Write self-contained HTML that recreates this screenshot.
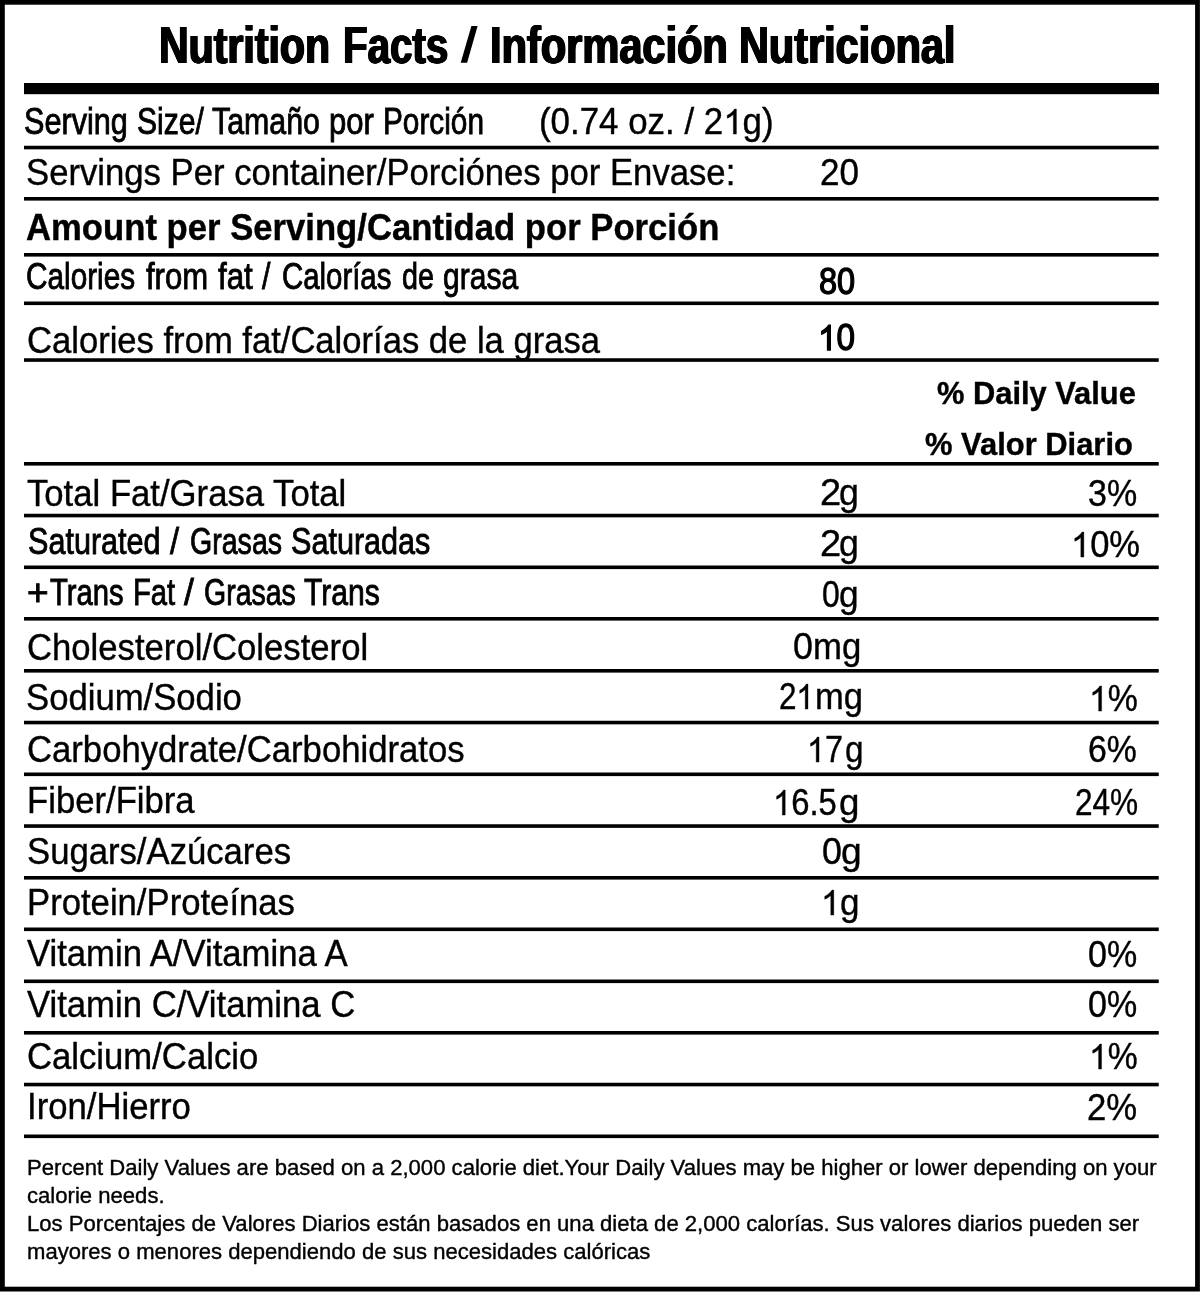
<!DOCTYPE html>
<html><head><meta charset="utf-8"><title>Nutrition Facts</title>
<style>
html,body{margin:0;padding:0;background:#fff;}
body{width:1200px;height:1292px;position:relative;overflow:hidden;font-family:"Liberation Sans",sans-serif;color:#000;}
.t{position:absolute;white-space:pre;line-height:0;transform-origin:0 0;}
.t i{display:inline-block;width:0;height:60px;}
.o{display:inline-block;width:.5562em;height:.688em;vertical-align:baseline;overflow:visible;}
.o path{stroke:#000;stroke-width:22px;}
#w{position:absolute;left:0;top:0;width:1200px;height:1292px;will-change:transform;}
</style></head><body>
<div id="w">
<svg width="1200" height="1292" viewBox="0 0 1200 1292" style="position:absolute;left:0;top:0"><rect x="2.4" y="2.3" width="1195.1" height="1286.8" fill="none" stroke="#000" stroke-width="4.8"/><rect x="24" y="83" width="1135" height="11.2" fill="#000"/><polygon points="460.7,62.7 467.1,62.7 477.6,26.0 471.4,26.0" fill="#000"/><rect x="24" y="145.75" width="1134.75" height="3.6" fill="#000"/><rect x="24" y="197" width="1134.75" height="3.6" fill="#000"/><rect x="24" y="253" width="1134.75" height="3.6" fill="#000"/><rect x="24" y="301.5" width="1134.75" height="3.6" fill="#000"/><rect x="24" y="358.25" width="1134.75" height="3.6" fill="#000"/><rect x="24" y="462" width="1134.75" height="3.6" fill="#000"/><rect x="24" y="513.75" width="1134.75" height="3.6" fill="#000"/><rect x="24" y="565.5" width="1134.75" height="3.6" fill="#000"/><rect x="24" y="617" width="1134.75" height="3.6" fill="#000"/><rect x="24" y="669" width="1134.75" height="3.6" fill="#000"/><rect x="24" y="720.75" width="1134.75" height="3.6" fill="#000"/><rect x="24" y="772.5" width="1134.75" height="3.6" fill="#000"/><rect x="24" y="824.25" width="1134.75" height="3.6" fill="#000"/><rect x="24" y="876" width="1134.75" height="3.6" fill="#000"/><rect x="24" y="927.5" width="1134.75" height="3.6" fill="#000"/><rect x="24" y="979.5" width="1134.75" height="3.6" fill="#000"/><rect x="24" y="1031" width="1134.75" height="3.6" fill="#000"/><rect x="24" y="1082.75" width="1134.75" height="3.6" fill="#000"/><rect x="24" y="1134.5" width="1134.75" height="3.6" fill="#000"/></svg>
<div class="t" style="left:159.44px;top:2.60px;font-size:51.2px;font-weight:bold;transform:scaleX(0.8024);text-shadow:1.05px 0 0 #000,-1.05px 0 0 #000,0.5px 0 0 #000,-0.5px 0 0 #000;"><i></i>Nutrition</div>
<div class="t" style="left:343.23px;top:2.60px;font-size:51.2px;font-weight:bold;transform:scaleX(0.7874);text-shadow:1.05px 0 0 #000,-1.05px 0 0 #000,0.5px 0 0 #000,-0.5px 0 0 #000;"><i></i>Facts</div>
<div class="t" style="left:459.85px;top:2.60px;font-size:51.2px;font-weight:bold;transform:scaleX(1.3019);opacity:0;"><i></i>/</div>
<div class="t" style="left:490.17px;top:2.60px;font-size:51.2px;font-weight:bold;transform:scaleX(0.8120);text-shadow:1.05px 0 0 #000,-1.05px 0 0 #000,0.5px 0 0 #000,-0.5px 0 0 #000;"><i></i>Información</div>
<div class="t" style="left:739.43px;top:2.60px;font-size:51.2px;font-weight:bold;transform:scaleX(0.8095);text-shadow:1.05px 0 0 #000,-1.05px 0 0 #000,0.5px 0 0 #000,-0.5px 0 0 #000;"><i></i>Nutricional</div>
<div class="t" style="left:23.98px;top:73.90px;font-size:37.6px;transform:scaleX(0.8149);-webkit-text-stroke:0.9px #000;"><i></i>Serving</div>
<div class="t" style="left:137.10px;top:73.90px;font-size:37.6px;transform:scaleX(0.8012);-webkit-text-stroke:0.9px #000;"><i></i>Size/</div>
<div class="t" style="left:211.85px;top:73.90px;font-size:37.6px;transform:scaleX(0.8068);-webkit-text-stroke:0.9px #000;"><i></i>Tamaño</div>
<div class="t" style="left:328.95px;top:73.90px;font-size:37.6px;transform:scaleX(0.8258);-webkit-text-stroke:0.9px #000;"><i></i>por</div>
<div class="t" style="left:382.82px;top:73.90px;font-size:37.6px;transform:scaleX(0.7923);-webkit-text-stroke:0.9px #000;"><i></i>Porción</div>
<div class="t" style="left:538.59px;top:73.70px;font-size:36.5px;transform:scaleX(0.9555);-webkit-text-stroke:0.4px #000;"><i></i>(0.74 oz. / 2<svg class="o" viewBox="0 -1472 1139 1472" preserveAspectRatio="none"><path d="M763 0H583V-1147Q518 -1085 412.5 -1023T223 -930V-1104Q377 -1176.5 492 -1279.5T655 -1472H763Z"/></svg>g)</div>
<div class="t" style="left:25.97px;top:124.50px;font-size:36.5px;transform:scaleX(0.9500);-webkit-text-stroke:0.4px #000;"><i></i>Servings Per container/Porciónes por Envase:</div>
<div class="t" style="left:819.57px;top:125.10px;font-size:36.5px;transform:scaleX(0.9603);-webkit-text-stroke:0.4px #000;"><i></i>20</div>
<div class="t" style="left:26.19px;top:180.10px;font-size:36.5px;font-weight:bold;transform:scaleX(0.9497);-webkit-text-stroke:0.4px #000;"><i></i>Amount per Serving/Cantidad por Porción</div>
<div class="t" style="left:25.81px;top:228.75px;font-size:37.6px;transform:scaleX(0.7915);-webkit-text-stroke:0.9px #000;"><i></i>Calories</div>
<div class="t" style="left:145.75px;top:228.75px;font-size:37.6px;transform:scaleX(0.8259);-webkit-text-stroke:0.9px #000;"><i></i>from</div>
<div class="t" style="left:217.50px;top:228.75px;font-size:37.6px;transform:scaleX(0.8333);-webkit-text-stroke:0.9px #000;"><i></i>fat</div>
<div class="t" style="left:262.40px;top:228.75px;font-size:37.6px;transform:scaleX(0.8043);-webkit-text-stroke:0.9px #000;"><i></i>/</div>
<div class="t" style="left:281.83px;top:228.75px;font-size:37.6px;transform:scaleX(0.7818);-webkit-text-stroke:0.9px #000;"><i></i>Calorías</div>
<div class="t" style="left:401.54px;top:228.75px;font-size:37.6px;transform:scaleX(0.7643);-webkit-text-stroke:0.9px #000;"><i></i>de</div>
<div class="t" style="left:442.75px;top:228.75px;font-size:37.6px;transform:scaleX(0.7989);-webkit-text-stroke:0.9px #000;"><i></i>grasa</div>
<div class="t" style="left:819.11px;top:233.75px;font-size:36.5px;transform:scaleX(0.8903);-webkit-text-stroke:1.3px #000;"><i></i>80</div>
<div class="t" style="left:26.84px;top:292.50px;font-size:36.5px;transform:scaleX(0.9478);-webkit-text-stroke:0.4px #000;"><i></i>Calories from fat/Calorías de la grasa</div>
<div class="t" style="left:818.29px;top:290.00px;font-size:36.5px;transform:scaleX(0.9110);-webkit-text-stroke:1.3px #000;"><i></i><svg class="o" viewBox="0 -1472 1139 1472" preserveAspectRatio="none"><path style="stroke-width:73px" d="M763 0H583V-1147Q518 -1085 412.5 -1023T223 -930V-1104Q377 -1176.5 492 -1279.5T655 -1472H763Z"/></svg>0</div>
<div class="t" style="left:937.02px;top:343.75px;font-size:32px;font-weight:bold;transform:scaleX(0.9634);-webkit-text-stroke:0.4px #000;"><i></i>% Daily Value</div>
<div class="t" style="left:924.52px;top:394.50px;font-size:32px;font-weight:bold;transform:scaleX(0.9660);-webkit-text-stroke:0.4px #000;"><i></i>% Valor Diario</div>
<div class="t" style="left:26.62px;top:445.50px;font-size:36.5px;transform:scaleX(0.9500);-webkit-text-stroke:0.4px #000;"><i></i>Total Fat/Grasa Total</div>
<div class="t" style="left:819.88px;top:445.10px;font-size:36.5px;transform:scaleX(1.0412);-webkit-text-stroke:0.4px #000;"><i></i>2</div>
<div class="t" style="left:838.98px;top:445.10px;font-size:36.5px;transform:scaleX(0.9765);-webkit-text-stroke:0.4px #000;"><i></i>g</div>
<div class="t" style="left:1088.09px;top:445.50px;font-size:36.5px;transform:scaleX(0.9307);-webkit-text-stroke:0.4px #000;"><i></i>3%</div>
<div class="t" style="left:27.73px;top:493.75px;font-size:37.6px;transform:scaleX(0.8138);-webkit-text-stroke:0.9px #000;"><i></i>Saturated</div>
<div class="t" style="left:170.43px;top:493.75px;font-size:37.6px;transform:scaleX(0.8696);-webkit-text-stroke:0.9px #000;"><i></i>/</div>
<div class="t" style="left:190.11px;top:493.75px;font-size:37.6px;transform:scaleX(0.7600);-webkit-text-stroke:0.9px #000;"><i></i>Grasas</div>
<div class="t" style="left:291.48px;top:493.75px;font-size:37.6px;transform:scaleX(0.8136);-webkit-text-stroke:0.9px #000;"><i></i>Saturadas</div>
<div class="t" style="left:819.88px;top:496.20px;font-size:36.5px;transform:scaleX(1.0412);-webkit-text-stroke:0.4px #000;"><i></i>2</div>
<div class="t" style="left:838.98px;top:496.20px;font-size:36.5px;transform:scaleX(0.9765);-webkit-text-stroke:0.4px #000;"><i></i>g</div>
<div class="t" style="left:1070.71px;top:496.75px;font-size:36.5px;transform:scaleX(0.9451);-webkit-text-stroke:0.4px #000;"><i></i><svg class="o" viewBox="0 -1472 1139 1472" preserveAspectRatio="none"><path d="M763 0H583V-1147Q518 -1085 412.5 -1023T223 -930V-1104Q377 -1176.5 492 -1279.5T655 -1472H763Z"/></svg>0%</div>
<div class="t" style="left:27.27px;top:544.50px;font-size:37.6px;transform:scaleX(0.9868);-webkit-text-stroke:0.9px #000;"><i></i>+</div>
<div class="t" style="left:49.61px;top:544.50px;font-size:37.6px;transform:scaleX(0.7775);-webkit-text-stroke:0.9px #000;"><i></i>Trans</div>
<div class="t" style="left:132.61px;top:544.50px;font-size:37.6px;transform:scaleX(0.7778);-webkit-text-stroke:0.9px #000;"><i></i>Fat</div>
<div class="t" style="left:183.97px;top:544.50px;font-size:37.6px;transform:scaleX(0.9478);-webkit-text-stroke:0.9px #000;"><i></i>/</div>
<div class="t" style="left:203.86px;top:544.50px;font-size:37.6px;transform:scaleX(0.7579);-webkit-text-stroke:0.9px #000;"><i></i>Grasas</div>
<div class="t" style="left:303.60px;top:544.50px;font-size:37.6px;transform:scaleX(0.8016);-webkit-text-stroke:0.9px #000;"><i></i>Trans</div>
<div class="t" style="left:821.81px;top:547.10px;font-size:36.5px;transform:scaleX(0.8732);-webkit-text-stroke:0.4px #000;"><i></i>0</div>
<div class="t" style="left:839.19px;top:547.10px;font-size:36.5px;transform:scaleX(0.9647);-webkit-text-stroke:0.4px #000;"><i></i>g</div>
<div class="t" style="left:26.74px;top:599.60px;font-size:36.5px;transform:scaleX(0.9500);-webkit-text-stroke:0.4px #000;"><i></i>Cholesterol/Colesterol</div>
<div class="t" style="left:793.07px;top:599.00px;font-size:36.5px;transform:scaleX(0.9803);-webkit-text-stroke:0.4px #000;"><i></i>0</div>
<div class="t" style="left:812.86px;top:599.00px;font-size:36.5px;transform:scaleX(0.9514);-webkit-text-stroke:0.4px #000;"><i></i>mg</div>
<div class="t" style="left:25.97px;top:650.30px;font-size:36.5px;transform:scaleX(0.9500);-webkit-text-stroke:0.4px #000;"><i></i>Sodium/Sodio</div>
<div class="t" style="left:779.09px;top:649.00px;font-size:36.5px;transform:scaleX(0.8625);-webkit-text-stroke:0.4px #000;"><i></i>2<svg class="o" viewBox="0 -1472 1139 1472" preserveAspectRatio="none"><path d="M763 0H583V-1147Q518 -1085 412.5 -1023T223 -930V-1104Q377 -1176.5 492 -1279.5T655 -1472H763Z"/></svg></div>
<div class="t" style="left:815.17px;top:649.00px;font-size:36.5px;transform:scaleX(0.9449);-webkit-text-stroke:0.4px #000;"><i></i>mg</div>
<div class="t" style="left:1089.02px;top:651.00px;font-size:36.5px;transform:scaleX(0.9271);-webkit-text-stroke:0.4px #000;"><i></i><svg class="o" viewBox="0 -1472 1139 1472" preserveAspectRatio="none"><path d="M763 0H583V-1147Q518 -1085 412.5 -1023T223 -930V-1104Q377 -1176.5 492 -1279.5T655 -1472H763Z"/></svg>%</div>
<div class="t" style="left:27.09px;top:701.75px;font-size:36.5px;transform:scaleX(0.9500);-webkit-text-stroke:0.4px #000;"><i></i>Carbohydrate/Carbohidratos</div>
<div class="t" style="left:806.68px;top:701.90px;font-size:36.5px;transform:scaleX(0.8851);-webkit-text-stroke:0.4px #000;"><i></i><svg class="o" viewBox="0 -1472 1139 1472" preserveAspectRatio="none"><path d="M763 0H583V-1147Q518 -1085 412.5 -1023T223 -930V-1104Q377 -1176.5 492 -1279.5T655 -1472H763Z"/></svg>7</div>
<div class="t" style="left:845.06px;top:701.90px;font-size:36.5px;transform:scaleX(0.9118);-webkit-text-stroke:0.4px #000;"><i></i>g</div>
<div class="t" style="left:1088.38px;top:702.30px;font-size:36.5px;transform:scaleX(0.9250);-webkit-text-stroke:0.4px #000;"><i></i>6%</div>
<div class="t" style="left:26.99px;top:752.50px;font-size:36.5px;transform:scaleX(0.9500);-webkit-text-stroke:0.4px #000;"><i></i>Fiber/Fibra</div>
<div class="t" style="left:773.43px;top:755.10px;font-size:36.5px;transform:scaleX(0.8985);-webkit-text-stroke:0.4px #000;"><i></i><svg class="o" viewBox="0 -1472 1139 1472" preserveAspectRatio="none"><path d="M763 0H583V-1147Q518 -1085 412.5 -1023T223 -930V-1104Q377 -1176.5 492 -1279.5T655 -1472H763Z"/></svg>6.5</div>
<div class="t" style="left:839.14px;top:755.10px;font-size:36.5px;transform:scaleX(1.0059);-webkit-text-stroke:0.4px #000;"><i></i>g</div>
<div class="t" style="left:1074.74px;top:754.60px;font-size:36.5px;transform:scaleX(0.8648);-webkit-text-stroke:0.4px #000;"><i></i>24%</div>
<div class="t" style="left:26.57px;top:803.75px;font-size:36.5px;transform:scaleX(0.9500);-webkit-text-stroke:0.4px #000;"><i></i>Sugars/Azúcares</div>
<div class="t" style="left:822.07px;top:804.30px;font-size:36.5px;transform:scaleX(0.9803);-webkit-text-stroke:0.4px #000;"><i></i>0</div>
<div class="t" style="left:840.73px;top:804.30px;font-size:36.5px;transform:scaleX(1.0176);-webkit-text-stroke:0.4px #000;"><i></i>g</div>
<div class="t" style="left:26.99px;top:855.00px;font-size:36.5px;transform:scaleX(0.9500);-webkit-text-stroke:0.4px #000;"><i></i>Protein/Proteínas</div>
<div class="t" style="left:820.68px;top:854.90px;font-size:36.5px;transform:scaleX(0.9400);-webkit-text-stroke:0.4px #000;"><i></i><svg class="o" viewBox="0 -1472 1139 1472" preserveAspectRatio="none"><path d="M763 0H583V-1147Q518 -1085 412.5 -1023T223 -930V-1104Q377 -1176.5 492 -1279.5T655 -1472H763Z"/></svg></div>
<div class="t" style="left:840.00px;top:854.90px;font-size:36.5px;transform:scaleX(0.9588);-webkit-text-stroke:0.4px #000;"><i></i>g</div>
<div class="t" style="left:27.00px;top:906.00px;font-size:36.5px;transform:scaleX(0.9500);-webkit-text-stroke:0.4px #000;"><i></i>Vitamin A/Vitamina A</div>
<div class="t" style="left:1088.09px;top:906.75px;font-size:36.5px;transform:scaleX(0.9307);-webkit-text-stroke:0.4px #000;"><i></i>0%</div>
<div class="t" style="left:27.00px;top:957.25px;font-size:36.5px;transform:scaleX(0.9500);-webkit-text-stroke:0.4px #000;"><i></i>Vitamin C/Vitamina C</div>
<div class="t" style="left:1088.09px;top:957.25px;font-size:36.5px;transform:scaleX(0.9307);-webkit-text-stroke:0.4px #000;"><i></i>0%</div>
<div class="t" style="left:27.09px;top:1009.00px;font-size:36.5px;transform:scaleX(0.9500);-webkit-text-stroke:0.4px #000;"><i></i>Calcium/Calcio</div>
<div class="t" style="left:1089.14px;top:1009.40px;font-size:36.5px;transform:scaleX(0.9229);-webkit-text-stroke:0.4px #000;"><i></i><svg class="o" viewBox="0 -1472 1139 1472" preserveAspectRatio="none"><path d="M763 0H583V-1147Q518 -1085 412.5 -1023T223 -930V-1104Q377 -1176.5 492 -1279.5T655 -1472H763Z"/></svg>%</div>
<div class="t" style="left:27.01px;top:1059.05px;font-size:36.5px;transform:scaleX(0.9500);-webkit-text-stroke:0.4px #000;"><i></i>Iron/Hierro</div>
<div class="t" style="left:1087.09px;top:1059.75px;font-size:36.5px;transform:scaleX(0.9500);-webkit-text-stroke:0.4px #000;"><i></i>2%</div>
<div class="t" style="left:26.80px;top:1115.00px;font-size:22.7px;transform:scaleX(0.9739);-webkit-text-stroke:0.4px #000;"><i></i>Percent Daily Values are based on a 2,000 calorie diet.Your Daily Values may be higher or lower depending on your</div>
<div class="t" style="left:27.07px;top:1143.25px;font-size:22.7px;transform:scaleX(0.9739);-webkit-text-stroke:0.4px #000;"><i></i>calorie needs.</div>
<div class="t" style="left:26.80px;top:1171.40px;font-size:22.7px;transform:scaleX(0.9737);-webkit-text-stroke:0.4px #000;"><i></i>Los Porcentajes de Valores Diarios están basados en una dieta de 2,000 calorías. Sus valores diarios pueden ser</div>
<div class="t" style="left:27.28px;top:1199.30px;font-size:22.7px;transform:scaleX(0.9730);-webkit-text-stroke:0.4px #000;"><i></i>mayores o menores dependiendo de sus necesidades calóricas</div>
</div>
</body></html>
